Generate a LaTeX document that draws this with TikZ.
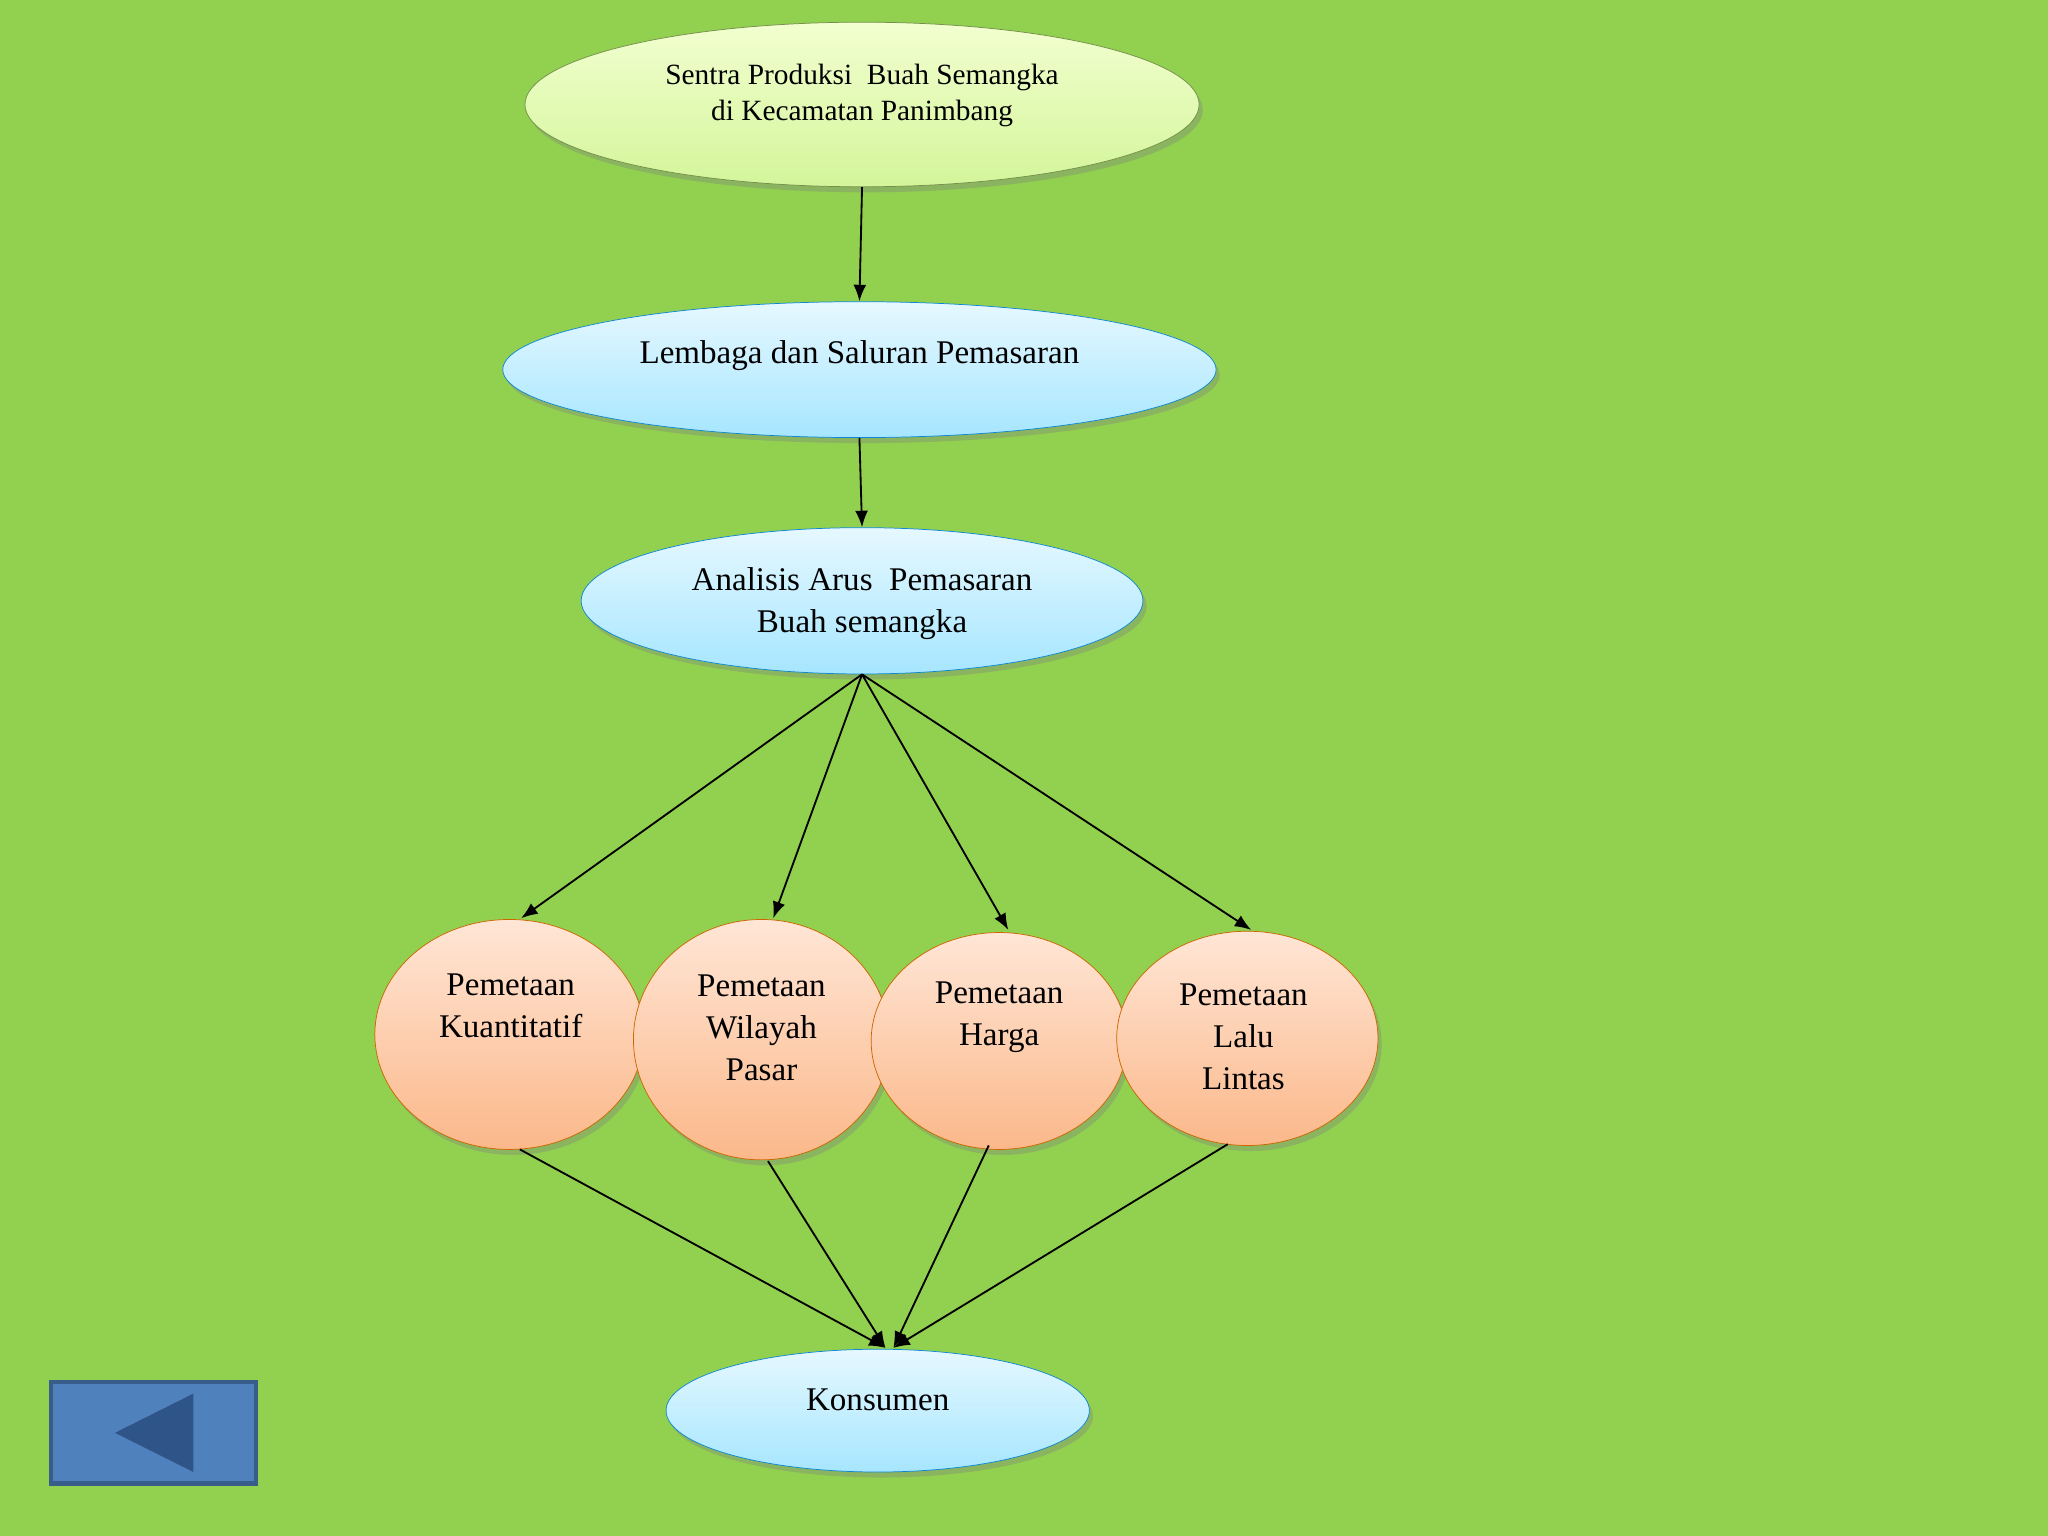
\documentclass[tikz,border=0pt]{standalone}
\usepackage{fontspec}
\setmainfont{Liberation Serif}
\usetikzlibrary{shapes.geometric,shadows,arrows.meta}
\definecolor{bg}{HTML}{92D050}
\definecolor{btn}{HTML}{4F81BD}
\definecolor{btnd}{HTML}{2F5487}
\definecolor{btnb}{HTML}{385D8A}
\definecolor{bt}{HTML}{E6F8FF}
\definecolor{bb}{HTML}{A6E6FF}
\definecolor{yt}{HTML}{F2FFD0}
\definecolor{yb}{HTML}{D4F59A}
\definecolor{ot}{HTML}{FFE6D6}
\definecolor{ob}{HTML}{FBB88A}
\begin{document}
\begin{tikzpicture}[x=0.025cm,y=-0.025cm,
 el/.style={ellipse,inner sep=0pt,drop shadow={shadow xshift=2pt,shadow yshift=-3pt,opacity=0.35}},
 yel/.style={el,draw=yellow!50!green!60!black,top color=yt,bottom color=yb},
 blu/.style={el,draw=cyan!70!blue,top color=bt,bottom color=bb},
 org/.style={el,draw=orange!80!black,top color=ot,bottom color=ob},
 txt/.style={align=center,inner sep=0pt,font=\fontsize{18}{23}\selectfont},
 ar/.style={-{Latex[length=9pt,width=7pt]},line width=1pt}]
\useasboundingbox (0,0) rectangle (1568,1176);
\fill[bg] (0,0) rectangle (1568,1176);
\node[yel,minimum width=516*0.7113pt,minimum height=126*0.7113pt] (a) at (660,80) {};
\node[blu,minimum width=546*0.7113pt,minimum height=104*0.7113pt] (b) at (658,283) {};
\node[blu,minimum width=430*0.7113pt,minimum height=112*0.7113pt] (c) at (660,460) {};
\node[org,minimum width=206*0.7113pt,minimum height=176*0.7113pt] (p1) at (390,792) {};
\node[org,minimum width=196*0.7113pt,minimum height=184*0.7113pt] (p2) at (583,796) {};
\node[org,minimum width=196*0.7113pt,minimum height=166*0.7113pt] (p3) at (765,797) {};
\node[org,minimum width=200*0.7113pt,minimum height=164*0.7113pt] (p4) at (955,795) {};
\node[blu,minimum width=324*0.7113pt,minimum height=94*0.7113pt] (k) at (672,1080) {};
\node[txt,font=\fontsize{16}{20}\selectfont] (at) at (660,73) {Sentra Produksi\ \ Buah Semangka\\di Kecamatan Panimbang};
\node[txt] (bt) at (658,272) {Lembaga dan Saluran Pemasaran};
\node[txt] (ct) at (660,462) {Analisis Arus\ \ Pemasaran\\Buah semangka};
\node[txt] (p1t) at (391,770) {Pemetaan\\Kuantitatif};
\node[txt] (p2t) at (583,787) {Pemetaan\\Wilayah\\Pasar};
\node[txt] (p3t) at (765,779) {Pemetaan\\Harga};
\node[txt] (p4t) at (952,794) {Pemetaan\\Lalu\\Lintas};
\node[txt] (kt) at (672,1072) {Konsumen};
\draw[ar] (a.south) -- (b.north);
\draw[ar] (b.south) -- (c.north);
\coordinate (t1) at (399,703); \coordinate (t2) at (592,703);
\coordinate (t3) at (772,712); \coordinate (t4) at (958,712);
\foreach \t in {t1,t2,t3,t4} \draw[ar] (c.south) -- (\t);
\coordinate (s1) at (398,880); \coordinate (s2) at (588,889);
\coordinate (s3) at (757,877); \coordinate (s4) at (940,876);
\coordinate (k1) at (678,1032); \coordinate (k2) at (684,1032);
\draw[ar] (s1) -- (k1); \draw[ar] (s2) -- (k1);
\draw[ar] (s3) -- (k2); \draw[ar] (s4) -- (k2);
\node[draw=btnb,line width=2.5pt,fill=btn,minimum width=157*0.7113pt,minimum height=78*0.7113pt,inner sep=0pt] (btn) at (117.5,1097) {};
\fill[btnd] (88,1097) -- (148,1067) -- (148,1127) -- cycle;
\end{tikzpicture}
\end{document}
